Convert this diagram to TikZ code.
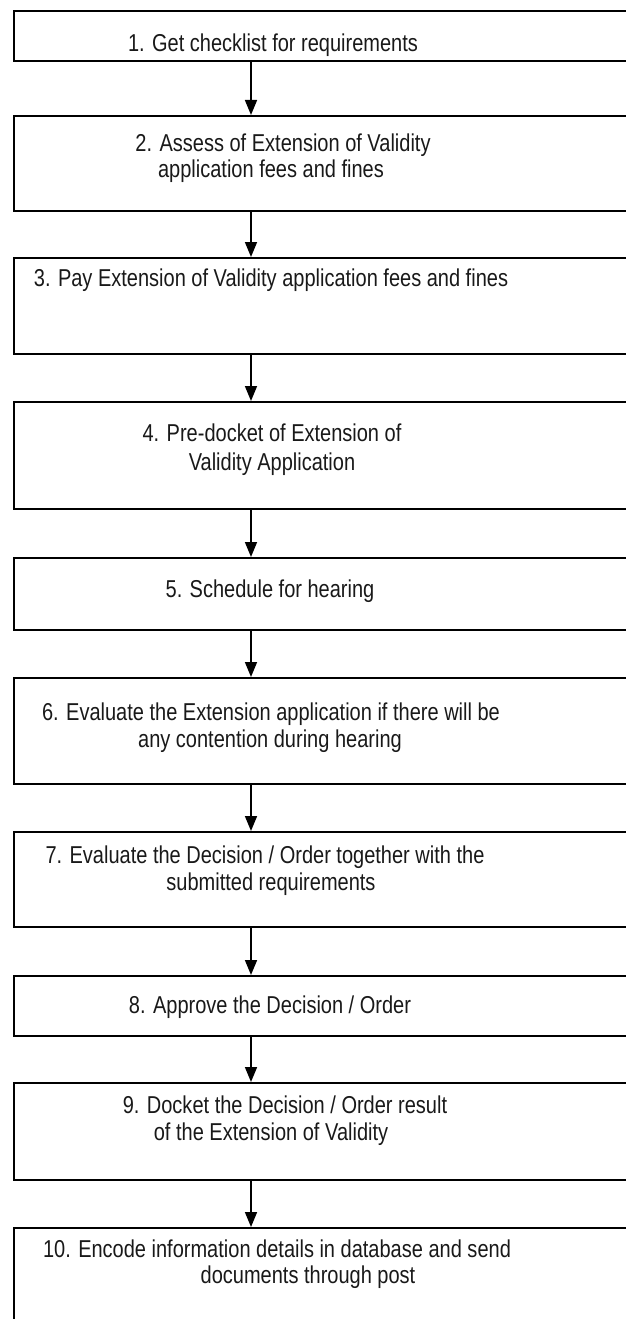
\documentclass[tikz,border=0pt]{standalone}
\usepackage{fontspec}
\setmainfont{Liberation Sans}[FakeStretch=0.82]
\usetikzlibrary{arrows.meta}
\begin{document}
\begin{tikzpicture}[x=1pt,y=-1pt,
  stepbox/.style={draw, line width=1.8pt, rectangle, anchor=north west,
                  inner sep=0pt, minimum width=700pt},
  steptext/.style={anchor=base, inner sep=0pt, text=black!90,
                   font=\fontsize{24.4}{27}\selectfont},
  flow/.style={line width=1.6pt, -{Triangle[width=12pt,length=15pt]}}]
\useasboundingbox (0,0) rectangle (626,1319);
\clip (0,0) rectangle (626,1319);

% process boxes (they run past the right and bottom page edges)
\node[stepbox, minimum height=50pt]  (b1)  at (13,10)   {};
\node[stepbox, minimum height=95pt]  (b2)  at (13,115)  {};
\node[stepbox, minimum height=96pt]  (b3)  at (13,257)  {};
\node[stepbox, minimum height=107pt] (b4)  at (13,401)  {};
\node[stepbox, minimum height=72pt]  (b5)  at (13,557)  {};
\node[stepbox, minimum height=106pt] (b6)  at (13,677)  {};
\node[stepbox, minimum height=95pt]  (b7)  at (13,831)  {};
\node[stepbox, minimum height=60pt]  (b8)  at (13,975)  {};
\node[stepbox, minimum height=97pt]  (b9)  at (13,1082) {};
\node[stepbox, minimum height=130pt] (b10) at (13,1227) {};

% step labels
\node[steptext] (t1)  at (273,52)   {1. Get checklist for requirements};
\node[steptext] (t2a) at (283,151)  {2. Assess of Extension of Validity};
\node[steptext] (t2b) at (271,177)  {application fees and fines};
\node[steptext] (t3)  at (271,286)  {3. Pay Extension of Validity application fees and fines};
\node[steptext] (t4a) at (272,441)  {4. Pre-docket of Extension of};
\node[steptext] (t4b) at (272,470)  {Validity Application};
\node[steptext] (t5)  at (270,597)  {5. Schedule for hearing};
\node[steptext] (t6a) at (271,720)  {6. Evaluate the Extension application if there will be};
\node[steptext] (t6b) at (270,747)  {any contention during hearing};
\node[steptext] (t7a) at (265,863)  {7. Evaluate the Decision / Order together with the};
\node[steptext] (t7b) at (271,890)  {submitted requirements};
\node[steptext] (t8)  at (270,1013) {8. Approve the Decision / Order};
\node[steptext] (t9a) at (285,1113) {9. Docket the Decision / Order result};
\node[steptext] (t9b) at (271,1140) {of the Extension of Validity};
\node[steptext] (t10a) at (277,1257) {10. Encode information details in database and send};
\node[steptext] (t10b) at (308,1283) {documents through post};

% connectors
\coordinate (ax) at (251,0);
\foreach \a/\b in {b1/b2,b2/b3,b3/b4,b4/b5,b5/b6,b6/b7,b7/b8,b8/b9,b9/b10}
  \draw[flow] (\a.south -| ax) -- (\b.north -| ax);
\end{tikzpicture}
\end{document}
